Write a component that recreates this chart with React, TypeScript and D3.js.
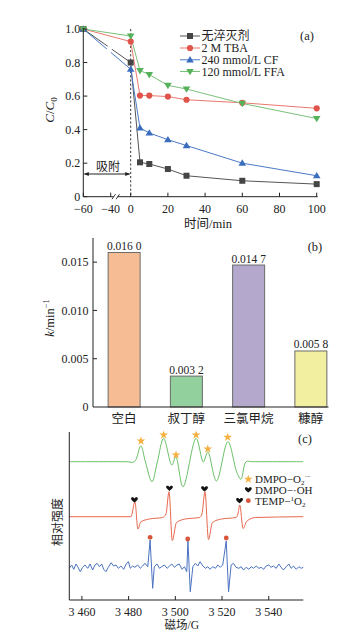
import React from 'react';
import * as d3 from 'd3';

// ---------- Panel (a) data ----------
const timeX = [-60, 0, 5, 10, 20, 30, 60, 100];
const seriesNames = ['无淬灭剂', '2 M TBA', '240 mmol/L CF', '120 mmol/L FFA'];
const noQuench = [1.0, 0.8, 0.205, 0.195, 0.165, 0.125, 0.095, 0.075];
const tba = [1.0, 0.925, 0.603, 0.603, 0.597, 0.578, 0.56, 0.527];
const cf = [1.0, 0.76, 0.41, 0.38, 0.34, 0.305, 0.2, 0.125];
const ffa = [1.0, 0.958, 0.752, 0.728, 0.664, 0.642, 0.556, 0.466];
const xTicksA = [-60, -40, 0, 20, 40, 60, 80, 100];
const yTicksA = [0, 0.2, 0.4, 0.6, 0.8, 1.0];

// ---------- Panel (b) data ----------
const categories = ['空白', '叔丁醇', '三氯甲烷', '糠醇'];
const kValues = [0.016, 0.0032, 0.0147, 0.0058];
const kLabels = ['0.016 0', '0.003 2', '0.014 7', '0.005 8'];
const yTicksB = [0, 0.005, 0.01, 0.015];
const yTickLabelsB = ['0', '0.005', '0.010', '0.015'];

// ---------- Panel (c) data ----------
const xTicksC = [3460, 3480, 3500, 3520, 3540];
const xTickLabelsC = ['3 460', '3 480', '3 500', '3 520', '3 540'];
const greenG = [3454.6, 3479, 3482.5, 3485.2, 3487.2, 3490.0, 3492.3, 3495.0, 3498.5, 3500.2, 3503.3, 3508.9, 3512.0, 3513.9, 3517.6, 3522.5, 3526.3, 3528.1, 3530.3, 3533, 3554.8];
const greenI = [138.3, 138.3, 138.3, 154, 138, 118.3, 138, 161.7, 135, 143, 113.3, 161.7, 138, 148, 119, 158.3, 128, 120.7, 138.3, 138.3, 138.3];
const redG = [3454.6, 3481.0, 3482.7, 3484.0, 3485.2, 3488.9, 3494.5, 3496.0, 3497.3, 3498.7, 3500.5, 3504.3, 3510.3, 3511.4, 3512.7, 3514.2, 3515.9, 3519.8, 3526.0, 3526.8, 3527.6, 3529.0, 3530.5, 3534.3, 3554.8];
const redI = [83.3, 83.3, 98, 71, 78, 81, 82.5, 86, 108.3, 59.5, 77.5, 81, 82.5, 86, 108.3, 60.5, 77.5, 81, 82.5, 86, 95, 71.5, 78.5, 82.5, 83.3];
const blueG = [3454.6, 3455.6, 3456.5, 3457.5, 3458.2, 3459.3, 3460.3, 3461.3, 3462.5, 3463.5, 3464.6, 3465.6, 3466.5, 3467.5, 3468.5, 3469.3, 3470.3, 3471.3, 3472.5, 3473.6, 3474.6, 3475.6, 3476.7, 3477.9, 3479.0, 3479.9, 3480.7, 3481.7, 3482.7, 3483.9, 3485.0, 3486.0, 3487.0, 3488.2, 3489.2, 3490.3, 3491.0, 3492.2, 3493.2, 3494.2, 3495.3, 3496.5, 3497.5, 3498.5, 3499.6, 3500.7, 3501.7, 3502.9, 3503.9, 3504.9, 3505.4, 3506.4, 3507.5, 3508.6, 3509.6, 3510.6, 3511.8, 3512.9, 3513.9, 3514.9, 3516.0, 3517.2, 3518.2, 3519.2, 3520.3, 3521.8, 3522.8, 3523.9, 3524.9, 3526.0, 3527.2, 3528.2, 3529.2, 3530.3, 3531.5, 3532.5, 3533.5, 3534.6, 3535.8, 3536.8, 3537.8, 3538.9, 3540.0, 3541.0, 3542.0, 3543.2, 3544.3, 3545.3, 3546.3, 3547.5, 3548.6, 3549.6, 3550.6, 3551.8, 3552.9, 3553.9, 3554.8];
const blueI = [31.7, 35, 30.7, 36, 33.3, 28.3, 32.7, 35, 31.7, 36, 30, 35, 36.7, 33.3, 36, 30.7, 28.3, 32.7, 37.3, 34, 35, 31.7, 34, 30.7, 36, 38.3, 31.7, 34, 32.7, 35, 31.7, 34, 36.7, 33.3, 60, 11.7, 33.3, 36, 31.7, 33.3, 35, 31.7, 34, 36, 32.7, 35, 36, 30.7, 33.3, 28.3, 59, 8.3, 33.3, 36.7, 34, 38.3, 34, 31.7, 33.3, 30.7, 33.3, 31.7, 35, 32.7, 35, 59, 8.3, 35, 36.7, 32.7, 31.7, 33.3, 30, 32.7, 30.7, 33.3, 31.7, 34, 31.7, 32.7, 30.7, 34, 35, 32.7, 34, 31.7, 36, 32.7, 30, 33.3, 36, 31.7, 34, 30.7, 33.3, 31.7, 32.7];
const o2MarkG = [3485.3, 3495.0, 3500.3, 3508.9, 3513.9, 3522.4];
const o2MarkI = [159, 165, 145, 165, 151, 162.7];
const ohMarkG = [3482.5, 3497.5, 3512.5, 3527.5];
const ohMarkI = [100, 111.7, 111, 99.3];
const tempMarkG = [3489.2, 3505.3, 3521.8];
const tempMarkI = [62.7, 61, 62];

const FONT = "'Liberation Serif','Times New Roman','Noto Sans CJK SC',serif";

const heartPath = 'M0,2.6 C-1.2,1.6 -3.4,0.2 -3.4,-1.2 C-3.4,-2.6 -2,-3 -1,-2.4 L0,-1.4 L1,-2.4 C2,-3 3.4,-2.6 3.4,-1.2 C3.4,0.2 1.2,1.6 0,2.6Z';

export default function App() {
  // Panel (a) scales
  const xA = d3.scaleLinear().domain([-60, -40, 0, 100]).range([83.3, 110.7, 130.7, 316.7]);
  const yA = d3.scaleLinear().domain([0, 1]).range([196.7, 29]);
  const lineA = d3.line<number>().x((_, i) => xA(timeX[i])).y((d) => yA(d));

  const seriesA = [
    { name: seriesNames[0], vals: noQuench, line: '#555555', fill: '#454545', sym: 'square' },
    { name: seriesNames[1], vals: tba, line: '#e8796f', fill: '#e0554b', sym: 'circle' },
    { name: seriesNames[2], vals: cf, line: '#4a7ac6', fill: '#3b6dbf', sym: 'tri' },
    { name: seriesNames[3], vals: ffa, line: '#79c27a', fill: '#56b25a', sym: 'tridown' },
  ];

  const marker = (sym: string, x: number, y: number, fill: string, key: string) => {
    if (sym === 'square') return <rect key={key} x={x - 3} y={y - 3} width={6} height={6} fill={fill} />;
    if (sym === 'circle') return <circle key={key} cx={x} cy={y} r={3.1} fill={fill} />;
    if (sym === 'tri') return <path key={key} d={`M${x},${y - 3.8} L${x + 3.8},${y + 2.6} L${x - 3.8},${y + 2.6}Z`} fill={fill} />;
    return <path key={key} d={`M${x},${y + 3.8} L${x + 3.8},${y - 2.6} L${x - 3.8},${y - 2.6}Z`} fill={fill} />;
  };

  // Panel (b) scales
  const xB = d3.scalePoint<string>().domain(categories).range([93, 342]).padding(0.5);
  const yB = d3.scaleLinear().domain([0, 0.0175]).range([407, 238]);
  const barW = 32;
  const barColors = ['#f6bd95', '#92d09d', '#b4a8cd', '#f2f0a0'];

  // Panel (c) scales
  const xC = d3.scaleLinear().domain([3454.6, 3554.8]).range([69.3, 303.3]);
  const yC = d3.scaleLinear().domain([0, 168]).range([600, 432]);
  const mkLine = (G: number[], I: number[], curve: any) =>
    d3.line<number>().x((g) => xC(g)).y((_, i) => yC(I[i])).curve(curve)(G) || '';
  const star = d3.symbol().type(d3.symbolStar).size(24)() || '';

  const legendA = [40, 52, 63.8, 75.5];

  return (
    <svg width={364} height={634} style={{ position: 'absolute', left: 0, top: 0, background: '#fff' }} fontFamily={FONT}>
      {/* ================= Panel (a) ================= */}
      <g>
        <line x1={xA(0)} x2={xA(0)} y1={yA(1)} y2={yA(0)} stroke="#222" strokeWidth={0.9} strokeDasharray="2.2,2" />
        {seriesA.map((s, k) => (
          <path key={'l' + k} d={lineA(s.vals) || ''} fill="none" stroke={s.line} strokeWidth={1} />
        ))}
        {/* break gap across lines */}
        <polygon points="103,61 108,61 115,39 110,39" fill="#fff" />
        {seriesA.map((s, k) => s.vals.map((v, i) => marker(s.sym, xA(timeX[i]), yA(v), s.fill, `m${k}-${i}`)))}
        {/* axes */}
        <line x1={xA(-60)} x2={xA(-60)} y1={yA(1) - 1} y2={yA(0)} stroke="#222" strokeWidth={1} />
        <line x1={xA(-60)} x2={xA(100) + 1} y1={yA(0)} y2={yA(0)} stroke="#222" strokeWidth={1} />
        {yTicksA.map((t) => (
          <g key={'ya' + t}>
            <line x1={xA(-60)} x2={xA(-60) + 4} y1={yA(t)} y2={yA(t)} stroke="#222" />
            <text x={xA(-60) - 3} y={yA(t)} dy="0.35em" textAnchor="end" fontSize={12} fill="#222">
              {t === 0 ? '0' : t.toFixed(1)}
            </text>
          </g>
        ))}
        {xTicksA.map((t) => (
          <g key={'xa' + t}>
            <line x1={xA(t)} x2={xA(t)} y1={yA(0)} y2={yA(0) - 4} stroke="#222" />
            <text x={xA(t)} y={212.5} textAnchor="middle" fontSize={12} fill="#222">
              {t < 0 ? '−' + Math.abs(t) : String(t)}
            </text>
          </g>
        ))}
        {/* axis break marks */}
        <rect x={113.5} y={yA(0) - 2} width={4} height={4} fill="#fff" />
        <line x1={112} x2={115.5} y1={yA(0) + 2.5} y2={yA(0) - 2.5} stroke="#222" strokeWidth={0.9} />
        <line x1={116} x2={119.5} y1={yA(0) + 2.5} y2={yA(0) - 2.5} stroke="#222" strokeWidth={0.9} />
        {/* adsorption arrow */}
        <defs>
          <marker id="ah" viewBox="0 0 10 10" refX="9" refY="5" markerWidth="5" markerHeight="5" orient="auto-start-reverse">
            <path d="M0,1 L10,5 L0,9Z" fill="#222" />
          </marker>
        </defs>
        <line x1={xA(-60) + 1} x2={xA(0) - 1} y1={174} y2={174} stroke="#222" strokeWidth={1} markerStart="url(#ah)" markerEnd="url(#ah)" />
        <text x={108} y={171} textAnchor="middle" fontSize={12} fill="#222">吸附</text>
        <text transform="translate(54,110) rotate(-90)" textAnchor="middle" fontSize={13} fill="#222">
          <tspan fontStyle="italic">C</tspan>
          <tspan>/</tspan>
          <tspan fontStyle="italic">C</tspan>
          <tspan fontSize={9} dy={3}>0</tspan>
        </text>
        <text x={208} y={227.5} textAnchor="middle" fontSize={12.5} fill="#222">时间/min</text>
        <text x={307} y={40} textAnchor="middle" fontSize={12.5} fill="#222">(a)</text>
        {seriesA.map((s, k) => (
          <g key={'lg' + k}>
            <line x1={180} x2={200} y1={legendA[k] - 4} y2={legendA[k] - 4} stroke={s.line} strokeWidth={1} />
            {marker(s.sym, 190, legendA[k] - 4, s.fill, 'lm' + k)}
            <text x={201.5} y={legendA[k]} fontSize={12} fill="#222">{s.name}</text>
          </g>
        ))}
      </g>

      {/* ================= Panel (b) ================= */}
      <g>
        {categories.map((c, i) => (
          <g key={'bar' + c}>
            <rect x={(xB(c) as number) - barW / 2} y={yB(kValues[i])} width={barW} height={yB(0) - yB(kValues[i])} fill={barColors[i]} stroke="#6b6b6b" strokeWidth={1} />
            <text x={xB(c) as number} y={yB(kValues[i]) - 2.5} textAnchor="middle" fontSize={11.5} fill="#222">{kLabels[i]}</text>
            <text x={xB(c) as number} y={423} textAnchor="middle" fontSize={12.5} fill="#222">{c}</text>
          </g>
        ))}
        <line x1={93} x2={93} y1={238} y2={407} stroke="#222" />
        <line x1={93} x2={328.5} y1={407} y2={407} stroke="#222" />
        {yTicksB.map((t, i) => (
          <g key={'yb' + t}>
            {t > 0 && <line x1={93} x2={97} y1={yB(t)} y2={yB(t)} stroke="#222" />}
            <text x={88.5} y={yB(t)} dy="0.35em" textAnchor="end" fontSize={12} fill="#222">{yTickLabelsB[i]}</text>
          </g>
        ))}
        <text transform="translate(54,318) rotate(-90)" textAnchor="middle" fontSize={12.5} fill="#222">
          <tspan fontStyle="italic">k</tspan>
          <tspan>/min</tspan>
          <tspan fontSize={8.5} dy={-5}>−1</tspan>
        </text>
        <text x={315} y={251} textAnchor="middle" fontSize={12.5} fill="#222">(b)</text>
      </g>

      {/* ================= Panel (c) ================= */}
      <g>
        <path d={mkLine(greenG, greenI, d3.curveCatmullRom)} fill="none" stroke="#6cbf68" strokeWidth={1} />
        <path d={mkLine(redG, redI, d3.curveMonotoneX)} fill="none" stroke="#e8684e" strokeWidth={1} />
        <path d={mkLine(blueG, blueI, d3.curveLinear)} fill="none" stroke="#4a72c0" strokeWidth={1} />
        {o2MarkG.map((g, i) => (
          <path key={'o2' + i} d={star} transform={`translate(${xC(g)},${yC(o2MarkI[i])})`} fill="#f5b041" />
        ))}
        {ohMarkG.map((g, i) => (
          <path key={'oh' + i} d={heartPath} transform={`translate(${xC(g)},${yC(ohMarkI[i])})`} fill="#111" />
        ))}
        {tempMarkG.map((g, i) => (
          <circle key={'tp' + i} cx={xC(g)} cy={yC(tempMarkI[i])} r={2.4} fill="#d7553a" />
        ))}
        <line x1={69.3} x2={69.3} y1={432} y2={600} stroke="#222" />
        <line x1={69.3} x2={303.3} y1={600} y2={600} stroke="#222" />
        {xTicksC.map((t, i) => (
          <g key={'xc' + t}>
            <line x1={xC(t)} x2={xC(t)} y1={600} y2={596} stroke="#222" />
            <text x={xC(t)} y={615.5} textAnchor="middle" fontSize={12} fill="#222">{xTickLabelsC[i]}</text>
          </g>
        ))}
        <text x={181.7} y={629} textAnchor="middle" fontSize={11.5} fill="#222">磁场/G</text>
        <text transform="translate(62,522) rotate(-90)" textAnchor="middle" fontSize={12} fill="#222">相对强度</text>
        <text x={305} y={442.5} textAnchor="middle" fontSize={12.5} fill="#222">(c)</text>
        {/* legend */}
        <path d={star} transform="translate(248.3,479.3)" fill="#f5b041" />
        <text x={255} y={483} fontSize={11} fill="#222">
          DMPO−O<tspan fontSize={7} dy={2}>2</tspan><tspan fontSize={7} dy={-6.5}>·−</tspan>
        </text>
        <path d={heartPath} transform="translate(248.3,490)" fill="#111" />
        <text x={255} y={494} fontSize={11} fill="#222">DMPO−·OH</text>
        <circle cx={248.3} cy={500.7} r={2.4} fill="#d7553a" />
        <text x={255} y={505} fontSize={11} fill="#222">
          TEMP−<tspan fontSize={7} dy={-4}>1</tspan><tspan dy={4}>O</tspan><tspan fontSize={7} dy={2}>2</tspan>
        </text>
      </g>
    </svg>
  );
}
